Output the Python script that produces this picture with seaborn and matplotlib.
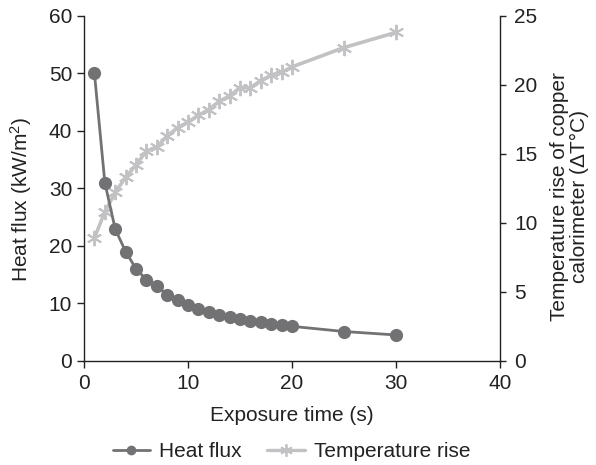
import matplotlib
matplotlib.use("Agg")
import matplotlib.pyplot as plt
import seaborn as sns
import pandas as pd
from matplotlib.lines import Line2D

# Exposure times (s)
time_s = [1, 2, 3, 4, 5, 6, 7, 8, 9, 10, 11, 12, 13, 14, 15, 16, 17, 18, 19, 20, 25, 30]
# Heat flux (kW/m2)
heat_flux = [50.0, 31.0, 22.9, 19.0, 16.0, 14.1, 13.0, 11.5, 10.6, 9.7, 9.1, 8.5,
             8.0, 7.6, 7.3, 7.0, 6.7, 6.4, 6.2, 6.0, 5.1, 4.5]
# Temperature rise of copper calorimeter (delta T, degC)
temp_rise = [8.9, 10.8, 12.2, 13.3, 14.2, 15.2, 15.5, 16.3, 16.9, 17.3, 17.8, 18.2,
             18.8, 19.2, 19.8, 19.8, 20.3, 20.7, 20.9, 21.3, 22.7, 23.8]

df = pd.DataFrame({"time": time_s, "flux": heat_flux, "temp": temp_rise})

sns.set_theme(style="ticks")
plt.rcParams["font.family"] = ["Liberation Sans", "DejaVu Sans"]
plt.rcParams["mathtext.fontset"] = "custom"
plt.rcParams["mathtext.rm"] = "Liberation Sans"
plt.rcParams["mathtext.it"] = "Liberation Sans:italic"
plt.rcParams["mathtext.default"] = "regular"

flux_color = "#727275"
temp_color = "#c2c2c5"
ink = "#222222"
fs = 15

fig = plt.figure(figsize=(5.96, 4.65), dpi=100)
ax = fig.add_axes([0.141, 0.224, 0.698, 0.742])
ax2 = ax.twinx()

sns.lineplot(data=df, x="time", y="temp", ax=ax2, color=temp_color, linewidth=2.6,
             marker=(6, 2, 0), markersize=11, markeredgewidth=1.4,
             markeredgecolor=temp_color, zorder=2)
sns.lineplot(data=df, x="time", y="flux", ax=ax, color=flux_color, linewidth=2.0,
             marker="o", markersize=9.5, markeredgewidth=0, zorder=3)

# draw flux axes above the temperature axes
ax.set_zorder(ax2.get_zorder() + 1)
ax.patch.set_visible(False)

ax.set_xlim(0, 40)
ax.set_ylim(0, 60)
ax2.set_ylim(0, 25)
ax.set_xticks([0, 10, 20, 30, 40])
ax.set_yticks([0, 10, 20, 30, 40, 50, 60])
ax2.set_yticks([0, 5, 10, 15, 20, 25])

for a in (ax, ax2):
    a.spines["top"].set_visible(False)
    for s in a.spines.values():
        s.set_color(ink)
        s.set_linewidth(1.0)
ax.spines["right"].set_visible(False)
ax2.spines["left"].set_visible(False)
ax2.spines["bottom"].set_visible(False)

ax.tick_params(axis="y", direction="out", length=5, width=1, colors=ink, labelsize=fs, pad=3.5)
ax.tick_params(axis="x", direction="out", length=5, width=1, colors=ink, labelsize=fs, pad=4.5)
ax2.tick_params(axis="y", direction="out", length=4, width=1, colors=ink, labelsize=fs, pad=6)

ax.set_xlabel("Exposure time (s)", fontsize=fs, color=ink, labelpad=9)
ax.set_ylabel("Heat flux (kW/m$^2$)", fontsize=fs, color=ink)
ax2.set_ylabel("Temperature rise of copper\ncalorimeter (ΔT°C)", fontsize=fs,
               color=ink, linespacing=1.05)
ax.yaxis.set_label_coords(-0.12, 0.467)
ax2.yaxis.set_label_coords(1.12, 0.475)
ax.grid(False)
ax2.grid(False)

handles = [
    Line2D([], [], color=flux_color, linewidth=2.0, marker="o", markersize=7,
           markeredgewidth=0),
    Line2D([], [], color=temp_color, linewidth=2.4, marker=(6, 2, 0), markersize=9,
           markeredgewidth=1.3, markeredgecolor=temp_color),
]
fig.legend(handles, ["Heat flux", "Temperature rise"], loc="center",
           bbox_to_anchor=(0.489, 0.028), ncol=2, frameon=False, fontsize=fs,
           handlelength=1.8, columnspacing=1.2, handletextpad=0.45,
           labelcolor=ink, borderpad=0, borderaxespad=0)

fig.savefig("out.png", dpi=100)
